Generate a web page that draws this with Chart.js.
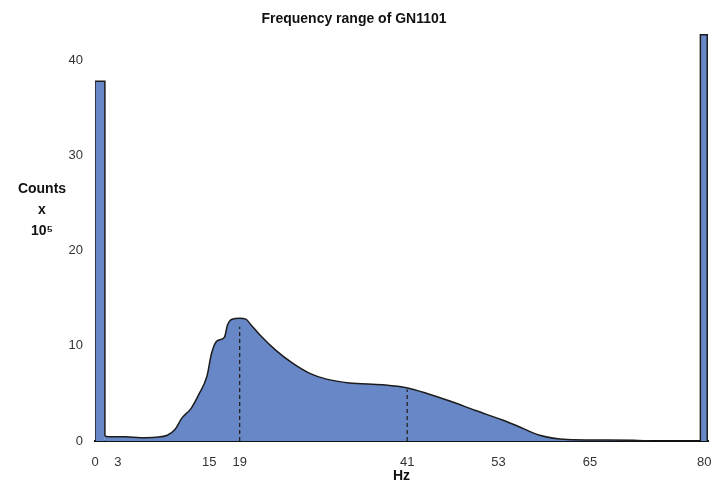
<!DOCTYPE html>
<html>
<head>
<meta charset="utf-8">
<script src="https://cdn.jsdelivr.net/npm/chart.js@4"></script>
<style>
    html, body { margin: 0; padding: 0; background: #fff; }
    #wrap { width: 721px; height: 485px; }
</style>
</head>
<body>
<div id="wrap"><canvas id="freqChart" width="721" height="485"></canvas></div>
<script>
// Values (Hz on x, counts x 10^5 on y)
const xTicks = [0, 3, 15, 19, 41, 53, 65, 80];
const yTicks = [0, 10, 20, 30, 40];

const curveHz = [1.3, 2, 4, 6, 8, 9.5, 10.5, 11.4, 12.6, 13.7, 14.7, 15.3, 16.0, 17.0, 17.4, 18.0, 19.0, 19.8, 20.5, 21.6, 23.8, 25.9, 28.2, 30.4, 33.4, 37.8, 40.9, 43.6, 46.6, 50, 53.5, 55.4, 58.4, 62, 66, 70.7, 72.9];
const curveCounts = [0.5, 0.45, 0.45, 0.35, 0.4, 0.6, 1.2, 2.4, 3.4, 5.0, 6.8, 9.2, 10.5, 10.9, 12.2, 12.8, 12.9, 12.8, 12.2, 11.2, 9.5, 8.2, 7.1, 6.5, 6.1, 5.9, 5.6, 5.0, 4.2, 3.2, 2.2, 1.6, 0.6, 0.15, 0.1, 0.08, 0];

const leftSpikeHz = [0, 0, 1.3, 1.3];
const leftSpikeCounts = [0, 37.8, 37.8, 0.5];
const rightSpikeHz = [79.5, 79.5, 80.4, 80.4];
const rightSpikeCounts = [0, 42.7, 42.7, 0];

const markerHz = [19, 41];
const markerCounts = [12.0, 5.4];

const fillColor = "#6787c7";
const lineColor = "#1c1c1c";
const font = "Arial, 'Liberation Sans', sans-serif";

function toPoints(xs, ys) {
    return xs.map((x, i) => ({ x: x, y: ys[i] }));
}

// horizontal y-axis title on the left
const yTitlePlugin = {
    id: "yTitle",
    afterDraw(chart) {
        const ctx = chart.ctx;
        ctx.save();
        ctx.fillStyle = "#111";
        ctx.font = "bold 14px " + font;
        ctx.textAlign = "center";
        ctx.textBaseline = "middle";
        ctx.fillText("Counts", 42, 189);
        ctx.fillText("x", 42, 210);
        ctx.fillText("10⁵", 42, 231);
        ctx.restore();
    }
};

const areaSet = (xs, ys, extra) => Object.assign({
    data: toPoints(xs, ys),
    borderColor: lineColor,
    borderWidth: 1.5,
    backgroundColor: fillColor,
    fill: "origin",
    pointRadius: 0,
    tension: 0,
    order: 2
}, extra);

const markerSets = markerHz.map((hz, i) => ({
    data: [{ x: hz, y: 0 }, { x: hz, y: markerCounts[i] }],
    borderColor: "#222",
    borderWidth: 1.3,
    borderDash: [4, 3],
    pointRadius: 0,
    fill: false,
    tension: 0,
    order: 1
}));

new Chart(document.getElementById("freqChart").getContext("2d"), {
    type: "line",
    data: {
        datasets: [
            areaSet(curveHz, curveCounts, { cubicInterpolationMode: "monotone" }),
            areaSet(leftSpikeHz, leftSpikeCounts),
            areaSet(rightSpikeHz, rightSpikeCounts),
            ...markerSets
        ]
    },
    options: {
        responsive: false,
        animation: false,
        layout: { padding: { left: 0, right: 13, top: 0, bottom: 0 } },
        plugins: {
            legend: { display: false },
            tooltip: { enabled: false },
            title: {
                display: true,
                text: "Frequency range of GN1101",
                color: "#111",
                font: { size: 14, weight: "bold", family: font },
                padding: { top: 11, bottom: 4 }
            }
        },
        scales: {
            x: {
                type: "linear",
                min: 0,
                max: 80.5,
                grid: { display: false, drawTicks: false },
                border: { display: true, color: "#111", width: 2 },
                afterBuildTicks(scale) {
                    scale.ticks = xTicks.map(v => ({ value: v }));
                },
                afterFit(scale) {
                    scale.height = 44;
                    scale.paddingRight = 0;
                    scale.paddingLeft = 0;
                },
                ticks: {
                    autoSkip: false,
                    maxRotation: 0,
                    padding: 14,
                    color: "#333",
                    font: { size: 13, family: font, lineHeight: 1.1 }
                },
                title: {
                    display: true,
                    text: "Hz",
                    color: "#111",
                    font: { size: 14, weight: "bold", family: font, lineHeight: 1 },
                    padding: { top: 2, bottom: 2 }
                }
            },
            y: {
                min: 0,
                max: 43,
                grid: { display: false, drawTicks: false },
                border: { display: false },
                afterBuildTicks(scale) {
                    scale.ticks = yTicks.map(v => ({ value: v }));
                },
                afterFit(scale) {
                    scale.width = 95;
                },
                ticks: {
                    padding: 12,
                    color: "#333",
                    font: { size: 13, family: font }
                }
            }
        }
    },
    plugins: [yTitlePlugin]
});
</script>
</body>
</html>
